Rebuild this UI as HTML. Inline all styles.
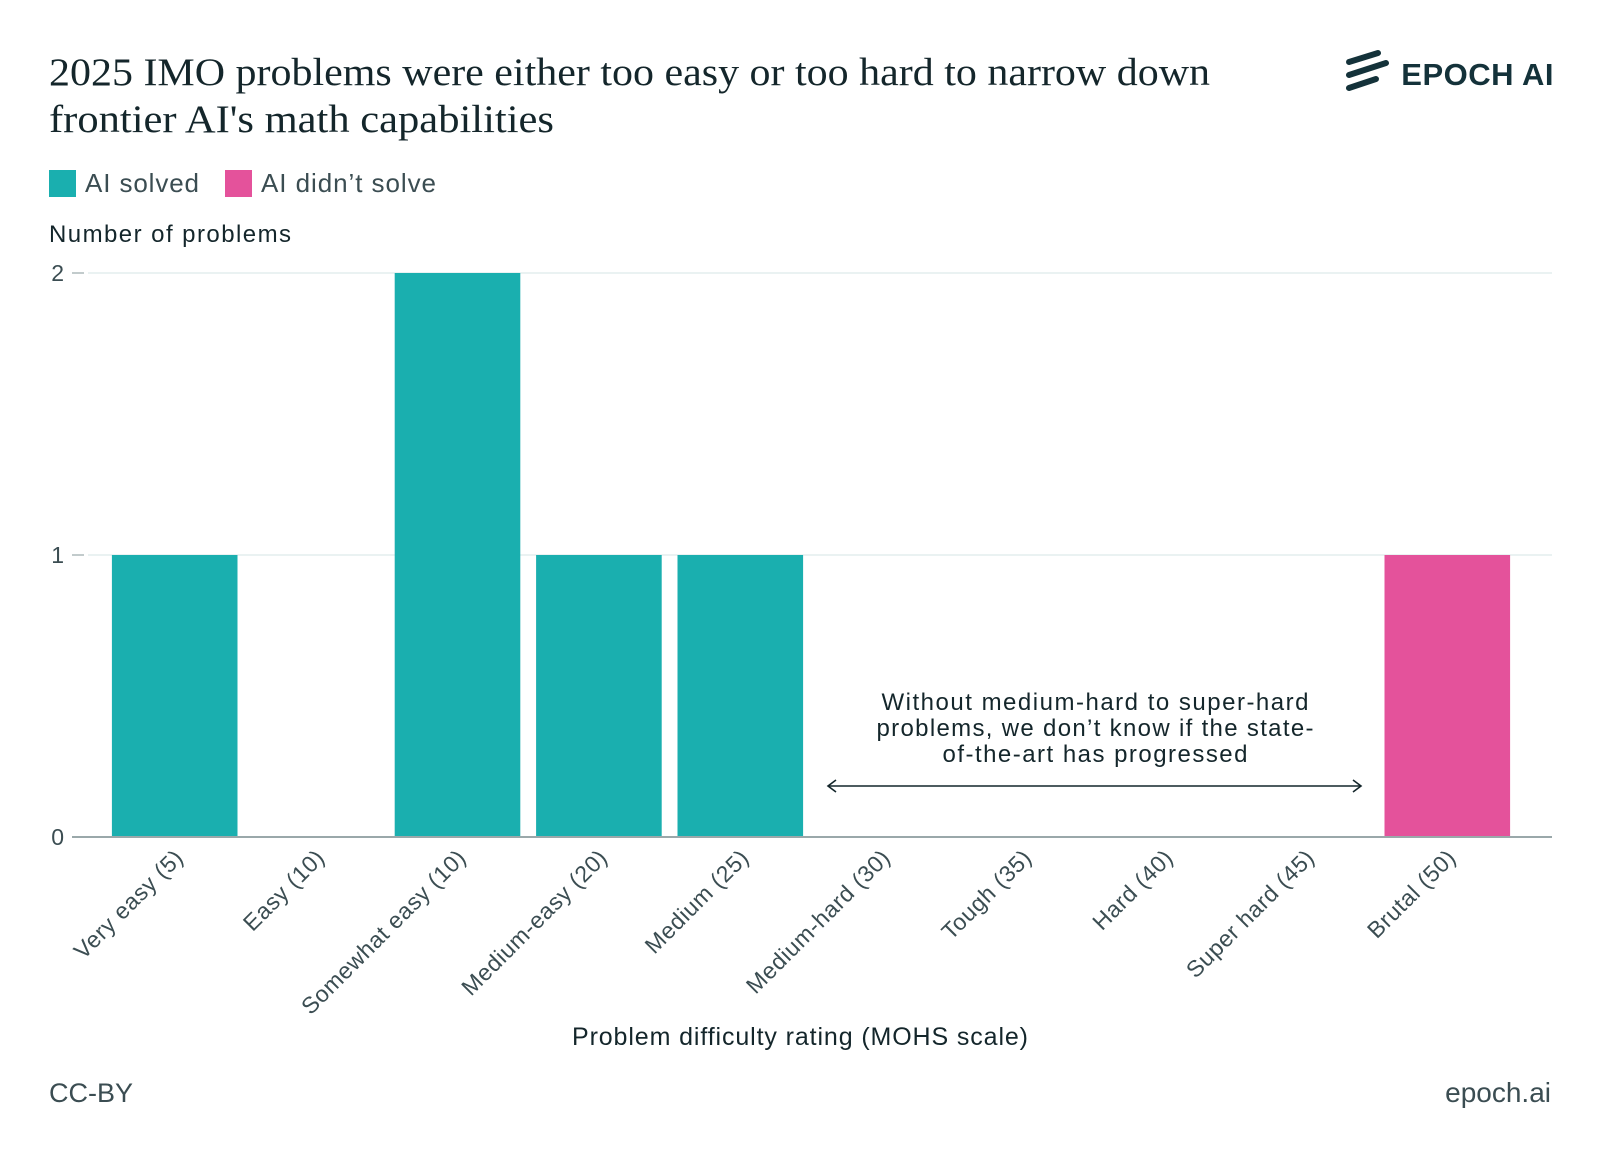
<!DOCTYPE html>
<html><head><meta charset="utf-8"><style>
body{margin:0;width:1600px;height:1162px;background:#fff;overflow:hidden;font-family:"Liberation Sans",sans-serif;color:#1b2d33}
svg{position:absolute;left:0;top:0}
</style></head><body>
<svg width="1600" height="1162">
<text x="49" y="85" font-family="Liberation Serif,serif" font-size="39" fill="#14262b" textLength="1161" lengthAdjust="spacingAndGlyphs">2025 IMO problems were either too easy or too hard to narrow down</text>
<text x="49" y="132" font-family="Liberation Serif,serif" font-size="39" fill="#14262b" textLength="505" lengthAdjust="spacingAndGlyphs">frontier AI's math capabilities</text>
<g fill="#14323a">
<line x1="1349" y1="62" x2="1378" y2="53" stroke="#14323a" stroke-width="6" stroke-linecap="round"/>
<line x1="1349" y1="75" x2="1386" y2="63" stroke="#14323a" stroke-width="6" stroke-linecap="round"/>
<line x1="1349" y1="88" x2="1376" y2="79" stroke="#14323a" stroke-width="6" stroke-linecap="round"/>
<text x="1554" y="85" text-anchor="end" font-size="31" font-weight="bold" letter-spacing="0.5">EPOCH AI</text>
</g>
<g font-size="26" fill="#3b4d52">
<rect x="49" y="170" width="27" height="27" fill="#1aafaf"/>
<text x="85" y="192" textLength="114">AI solved</text>
<rect x="225" y="170" width="27" height="27" fill="#e4529b"/>
<text x="261" y="192" textLength="175">AI didn’t solve</text>
</g>
<text x="49" y="242" font-size="24" fill="#14262b" textLength="242">Number of problems</text>
<g id="plot"></g>
<text x="800" y="1045" text-anchor="middle" font-size="25" fill="#14262b" textLength="456">Problem difficulty rating (MOHS scale)</text>
<g font-size="24" fill="#14262b" text-anchor="middle">
<text x="1095" y="710" textLength="427">Without medium-hard to super-hard</text>
<text x="1095" y="736" textLength="437">problems, we don’t know if the state-</text>
<text x="1095" y="762" textLength="305">of-the-art has progressed</text>
<line x1="828" y1="786" x2="1361" y2="786" stroke="#14262b" stroke-width="1.6"/>
<polyline points="836,780 828,786 836,792" fill="none" stroke="#14262b" stroke-width="1.6"/>
<polyline points="1353,780 1361,786 1353,792" fill="none" stroke="#14262b" stroke-width="1.6"/>
</g>
<text x="49" y="1102" font-size="27" fill="#3b4d52">CC-BY</text>
<text x="1551" y="1102" text-anchor="end" font-size="28" fill="#3b4d52">epoch.ai</text>
</svg>
<script>
const categories=["Very easy (5)","Easy (10)","Somewhat easy (10)","Medium-easy (20)","Medium (25)","Medium-hard (30)","Tough (35)","Hard (40)","Super hard (45)","Brutal (50)"];
const solved=[1,0,2,1,1,0,0,0,0,0];
const unsolved=[0,0,0,0,0,0,0,0,0,1];
const yTicks=[0,1,2];
const NS="http://www.w3.org/2000/svg";
const g=document.getElementById('plot');
const y0=837,y2=273,x0=104,step=141.4,bw=125.6;
function yS(v){return y0-(y0-y2)*v/2;}
function xC(i){return x0+step*(i+0.5);}
function mk(t,a){const e=document.createElementNS(NS,t);for(const k in a)e.setAttribute(k,a[k]);g.appendChild(e);return e;}
yTicks.forEach(v=>{
 if(v>0){const l=mk('line',{x1:88,x2:1552,y1:yS(v),y2:yS(v),stroke:'#e3eeee','stroke-width':1.5});
 
 }
 const tk=mk('line',{x1:72,x2:84,y1:yS(v),y2:yS(v),stroke:'#9aa8aa','stroke-width':1.2});
 
 
 const t=mk('text',{x:64,y:yS(v)+8,'text-anchor':'end','font-size':23,fill:'#3b4d52'});
 t.textContent=v;
 
 
});
categories.forEach((c,i)=>{
 const s=solved[i],u=unsolved[i];
 if(s>0){const r=mk('rect',{x:xC(i)-bw/2,y:yS(s),width:bw,height:y0-yS(s),fill:'#1aafaf'});
 
 }
 if(u>0){const r=mk('rect',{x:xC(i)-bw/2,y:yS(s+u),width:bw,height:yS(s)-yS(s+u),fill:'#e4529b'});
 
 }
 const t=mk('text',{x:0,y:0,'text-anchor':'end','font-size':23,'letter-spacing':'0.6',fill:'#3b4d52',transform:`translate(${xC(i)+10},${y0+22}) rotate(-45)`});
 t.textContent=c;
 
 
});
const ax=mk('line',{x1:72,x2:1552,y1:y0,y2:y0,stroke:'#9aa8aa','stroke-width':2});


</script>
</body></html>
